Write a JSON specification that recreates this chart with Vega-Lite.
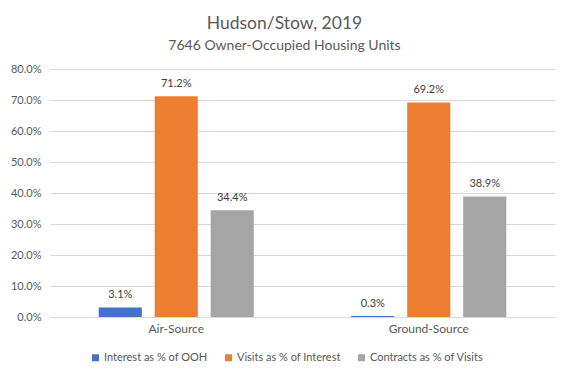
{
  "$schema": "https://vega.github.io/schema/vega-lite/v6.json",
  "width": 505,
  "height": 248,
  "autosize": "none",
  "padding": {"left": 50, "top": 69, "right": 13, "bottom": 62},
  "background": "white",
  "config": {
    "font": "Lato",
    "view": {"stroke": null}
  },
  "title": {
    "text": "Hudson/Stow, 2019",
    "subtitle": "7646 Owner-Occupied Housing Units",
    "anchor": "middle",
    "dx": -18,
    "fontSize": 17.5,
    "fontWeight": "normal",
    "color": "#595959",
    "subtitleFontSize": 14,
    "subtitleColor": "#595959",
    "subtitlePadding": 7,
    "offset": 10
  },
  "data": {
    "values": [
      {"source": "Air-Source", "series": "Interest as % of OOH", "value": 0.031},
      {"source": "Air-Source", "series": "Visits as % of Interest", "value": 0.712},
      {"source": "Air-Source", "series": "Contracts as % of Visits", "value": 0.344},
      {"source": "Ground-Source", "series": "Interest as % of OOH", "value": 0.003},
      {"source": "Ground-Source", "series": "Visits as % of Interest", "value": 0.692},
      {"source": "Ground-Source", "series": "Contracts as % of Visits", "value": 0.389}
    ]
  },
  "encoding": {
    "x": {
      "field": "source",
      "type": "nominal",
      "title": null,
      "scale": {"paddingInner": 0, "paddingOuter": 0},
      "axis": {
        "labelAngle": 0,
        "ticks": false,
        "domainColor": "#D9D9D9",
        "labelColor": "#595959",
        "labelFontSize": 12,
        "labelPadding": 6
      }
    },
    "xOffset": {
      "field": "series",
      "type": "nominal",
      "sort": ["Interest as % of OOH", "Visits as % of Interest", "Contracts as % of Visits"],
      "scale": {"paddingInner": 0.23, "paddingOuter": 0.87}
    },
    "y": {
      "field": "value",
      "type": "quantitative",
      "title": null,
      "scale": {"domain": [0, 0.8]},
      "axis": {
        "format": ".1%",
        "values": [0, 0.1, 0.2, 0.3, 0.4, 0.5, 0.6, 0.7, 0.8],
        "labelOverlap": false,
        "ticks": false,
        "domain": false,
        "gridColor": "#D9D9D9",
        "labelColor": "#595959",
        "labelFontSize": 11,
        "labelPadding": 9
      }
    }
  },
  "layer": [
    {
      "mark": {"type": "bar"},
      "encoding": {
        "color": {
          "field": "series",
          "type": "nominal",
          "sort": ["Interest as % of OOH", "Visits as % of Interest", "Contracts as % of Visits"],
          "scale": {
            "domain": ["Interest as % of OOH", "Visits as % of Interest", "Contracts as % of Visits"],
            "range": ["#4472C4", "#ED7D31", "#A5A5A5"]
          },
          "legend": {
            "title": null,
            "orient": "none",
            "direction": "horizontal",
            "legendX": 40,
            "legendY": 283,
            "symbolType": "square",
            "symbolSize": 49,
            "symbolStrokeWidth": 0,
            "labelColor": "#595959",
            "labelFontSize": 11,
            "labelOffset": 3,
            "columnPadding": 15
          }
        }
      }
    },
    {
      "mark": {"type": "text", "baseline": "bottom", "dy": -7, "fontSize": 11, "color": "#404040"},
      "encoding": {
        "text": {"field": "value", "type": "quantitative", "format": ".1%"}
      }
    }
  ]
}
